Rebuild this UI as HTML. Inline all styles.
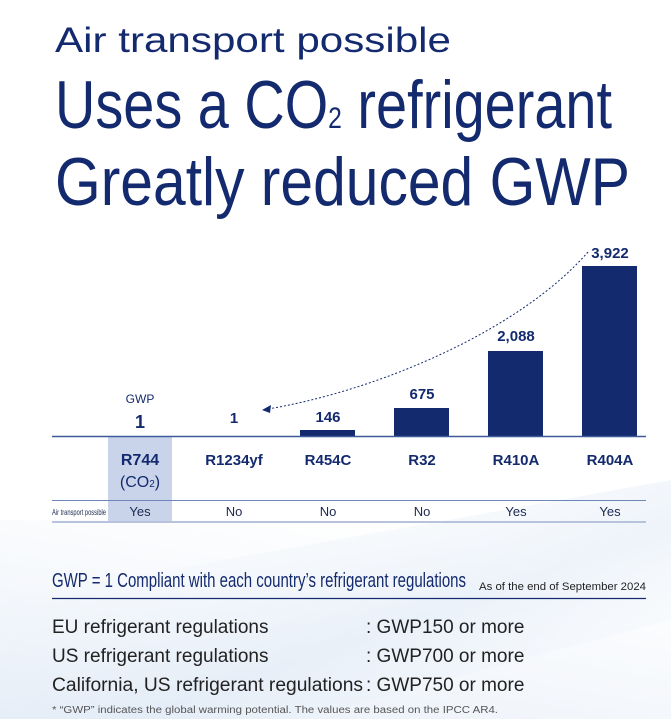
<!DOCTYPE html>
<html><head><meta charset="utf-8"><style>
html,body{margin:0;padding:0;background:#fff}
svg{display:block}
text{font-family:"Liberation Sans",sans-serif}
</style></head><body>
<svg width="671" height="719" viewBox="0 0 671 719" xmlns="http://www.w3.org/2000/svg">
<defs>
<linearGradient id="bg" x1="0" y1="1" x2="0.6" y2="0">
<stop offset="0" stop-color="#e8eff8"/><stop offset="0.5" stop-color="#f5f8fc"/><stop offset="1" stop-color="#ffffff"/>
</linearGradient>
<linearGradient id="bg2" x1="0" y1="0" x2="1" y2="1">
<stop offset="0" stop-color="#ffffff" stop-opacity="0"/><stop offset="0.6" stop-color="#dde8f5" stop-opacity="0.5"/><stop offset="1" stop-color="#ffffff" stop-opacity="0"/>
</linearGradient>
</defs>
<rect width="671" height="719" fill="#fff"/>
<rect y="520" width="671" height="199" fill="url(#bg)"/>
<polygon points="0,600 671,480 671,620 300,719 0,719" fill="url(#bg2)"/>
<g fill="#142a6e">
<text x="55" y="52" font-size="35" textLength="396" lengthAdjust="spacingAndGlyphs">Air transport possible</text>
<text x="55" y="128" font-size="68" textLength="557" lengthAdjust="spacingAndGlyphs">Uses a CO<tspan font-size="30" dy="0">2</tspan> refrigerant</text>
<text x="55" y="205" font-size="68" textLength="575" lengthAdjust="spacingAndGlyphs">Greatly reduced GWP</text>
</g>
<rect x="108" y="436" width="64" height="86" fill="#c9d4ea"/>
<g fill="#142a6e">
<rect x="300" y="430" width="55" height="6"/>
<rect x="394" y="408" width="55" height="28"/>
<rect x="488" y="351" width="55" height="85"/>
<rect x="582" y="266" width="55" height="170"/>
</g>
<line x1="52" y1="436.5" x2="646" y2="436.5" stroke="#3d5a99" stroke-width="1.5"/>
<line x1="52" y1="500.5" x2="646" y2="500.5" stroke="#6f86b8" stroke-width="1"/>
<line x1="52" y1="522" x2="646" y2="522" stroke="#b7c3dc" stroke-width="2"/>
<path d="M588,252 C520,330 380,390 268,409" fill="none" stroke="#142a6e" stroke-width="1" stroke-dasharray="2,2"/>
<polygon points="262,410 271,405 270,413" fill="#142a6e"/>
<g fill="#142a6e" font-weight="bold" text-anchor="middle" font-size="15">
<text x="610" y="258">3,922</text>
<text x="516" y="341">2,088</text>
<text x="422" y="399">675</text>
<text x="328" y="422">146</text>
<text x="234" y="423">1</text>
<text x="140" y="428" font-size="18">1</text>
<text x="140" y="403" font-size="12" font-weight="normal">GWP</text>
<text x="140" y="465" font-size="16">R744</text>
<text x="234" y="465">R1234yf</text>
<text x="328" y="465">R454C</text>
<text x="422" y="465">R32</text>
<text x="516" y="465">R410A</text>
<text x="610" y="465">R404A</text>
<text x="140" y="487" font-size="16" font-weight="normal">(CO<tspan font-size="10">2</tspan>)</text>
</g>
<g fill="#1d2a50" text-anchor="middle" font-size="13">
<text x="140" y="516">Yes</text><text x="234" y="516">No</text><text x="328" y="516">No</text>
<text x="422" y="516">No</text><text x="516" y="516">Yes</text><text x="610" y="516">Yes</text>
</g>
<text x="52" y="515" font-size="8" fill="#1d2a50" textLength="54" lengthAdjust="spacingAndGlyphs">Air transport possible</text>
<text x="52" y="587" font-size="20" fill="#142a6e" textLength="414" lengthAdjust="spacingAndGlyphs">GWP = 1  Compliant with each country’s refrigerant regulations</text>
<text x="646" y="590" font-size="11" fill="#222" text-anchor="end" textLength="167" lengthAdjust="spacingAndGlyphs">As of the end of September 2024</text>
<line x1="52" y1="598.5" x2="646" y2="598.5" stroke="#142a6e" stroke-width="1.2"/>
<g fill="#222" font-size="19">
<text x="52" y="633">EU refrigerant regulations</text>
<text x="52" y="662">US refrigerant regulations</text>
<text x="52" y="691" textLength="311" lengthAdjust="spacingAndGlyphs">California, US refrigerant regulations</text>
<text x="366" y="633">: GWP150 or more</text>
<text x="366" y="662">: GWP700 or more</text>
<text x="366" y="691">: GWP750 or more</text>
</g>
<text x="52" y="713" font-size="10" fill="#555" textLength="446" lengthAdjust="spacingAndGlyphs">*  “GWP” indicates the global warming potential. The values are based on the IPCC AR4.</text>
</svg>
</body></html>
